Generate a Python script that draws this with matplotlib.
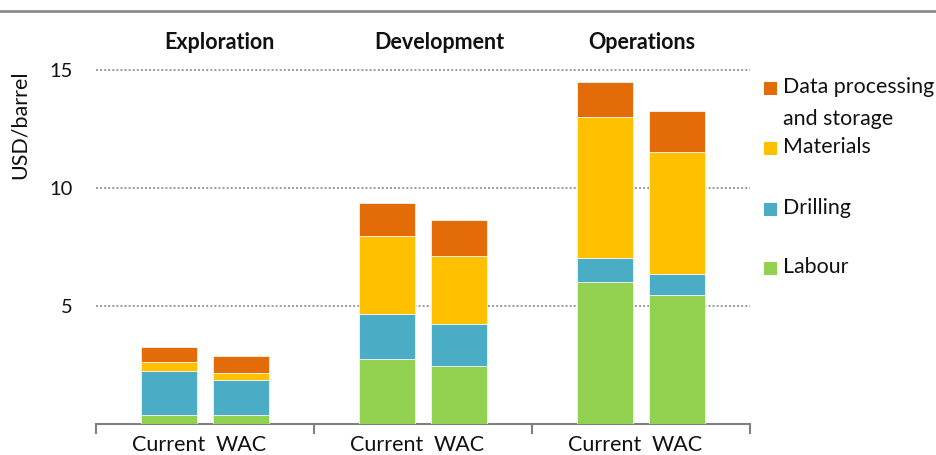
import matplotlib

matplotlib.use("Agg")
import matplotlib.pyplot as plt
from matplotlib.lines import Line2D
from matplotlib.patches import Rectangle

plt.rcParams["font.family"] = ["Lato", "DejaVu Sans"]

# Cost per barrel, bars ordered: Exploration (Current, WAC), Development (Current, WAC), Operations (Current, WAC)
stages = ["Exploration", "Development", "Operations"]
scenarios = ["Current", "WAC"]
labour = [0.36, 0.36, 2.74, 2.44, 6.03, 5.44]
drilling = [1.89, 1.50, 1.89, 1.78, 0.98, 0.89]
materials = [0.35, 0.29, 3.32, 2.89, 5.99, 5.21]
data_processing = [0.64, 0.73, 1.43, 1.55, 1.51, 1.74]

series = [
    ("Labour", labour, "#92D050"),
    ("Drilling", drilling, "#4BACC6"),
    ("Materials", materials, "#FFC000"),
    ("Data processing\nand storage", data_processing, "#E36C09"),
]

W, H = 937, 455
fig = plt.figure(figsize=(W / 100, H / 100), dpi=100)
ax = fig.add_axes([96 / W, (H - 423.5) / H, 654 / W, 388.5 / H])

offset = 0.167
width = 0.257
xpos = []
for g in range(len(stages)):
    xpos += [g - offset, g + offset]

bottom = [0.0] * len(xpos)
for name, vals, color in series:
    ax.bar(xpos, vals, width=width, bottom=bottom, color=color,
           edgecolor="#f4f4f4", linewidth=0.6, zorder=3)
    bottom = [b + v for b, v in zip(bottom, vals)]

ax.set_xlim(-0.5, 2.5)
ax.set_ylim(0, 16.5)

for side in ("left", "right", "top"):
    ax.spines[side].set_visible(False)
ax.spines["bottom"].set_color("#808080")
ax.spines["bottom"].set_linewidth(1.5)

ax.set_yticks([5, 10, 15])
ax.tick_params(axis="y", length=0, pad=17, labelsize=14.5, labelcolor="#111111")
ax.yaxis.grid(True, linestyle=(0, (1, 1.1)), color="#9a9a9a", linewidth=1.4, zorder=0)

ax.set_xticks(xpos)
ax.set_xticklabels(scenarios * len(stages))
ax.set_xticks([-0.5, 0.5, 1.5, 2.5], minor=True)
ax.tick_params(axis="x", which="major", length=0, pad=8, labelsize=15.5, labelcolor="#111111")
ax.tick_params(axis="x", which="minor", length=7, width=1.5, color="#808080")

# stage titles above each group
title_x = [0.067, 1.073, 2.005]
for x, stage in zip(title_x, stages):
    ax.text(x, 16.2, stage, ha="center", va="center", fontsize=15.5,
            fontweight="bold", color="#111111", clip_on=False)

fig.text(20 / W, 1 - 125 / H, "USD/barrel", rotation=90, ha="center", va="center",
         fontsize=15.5, color="#111111")

# thin rule along the top of the figure
fig.add_artist(Line2D([0, 1], [1 - 11 / H, 1 - 11 / H], color="#8c8c8c", linewidth=2))

# legend, top entry first
legend_y = [88, 148, 209, 268]
for (name, _, color), y in zip(reversed(series), legend_y):
    fig.add_artist(Rectangle((764 / W, 1 - (y + 6.5) / H), 13 / W, 13 / H,
                             facecolor=color, edgecolor="none", transform=fig.transFigure))
    fig.text(783 / W, 1 - (y - 11) / H, name, ha="left", va="top", fontsize=15.4,
             color="#111111", linespacing=1.72)

fig.savefig("out.png", dpi=100)
